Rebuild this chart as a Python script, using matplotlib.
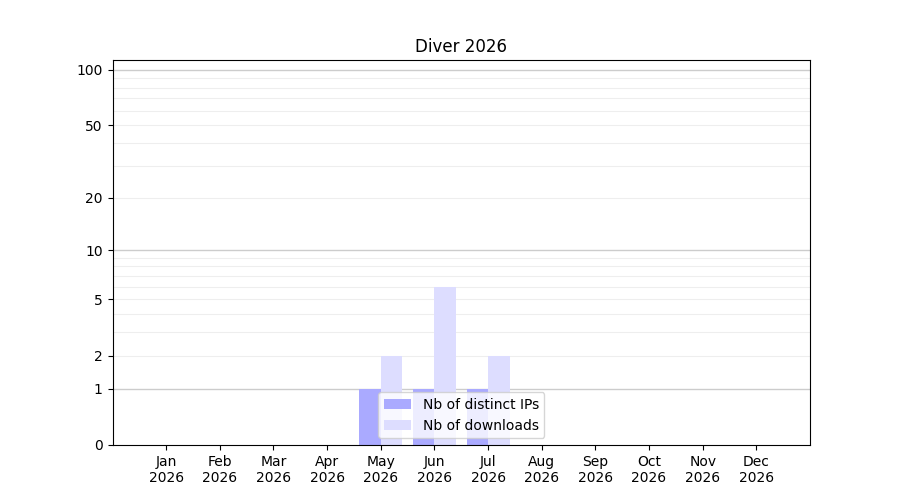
import matplotlib
matplotlib.use("Agg")
import matplotlib.pyplot as plt
import numpy as np

months = ["Jan", "Feb", "Mar", "Apr", "May", "Jun",
          "Jul", "Aug", "Sep", "Oct", "Nov", "Dec"]
year = "2026"
distinct_ips = [0, 0, 0, 0, 1, 1, 1, 0, 0, 0, 0, 0]
downloads = [0, 0, 0, 0, 2, 6, 2, 0, 0, 0, 0, 0]
y_ticks = [0, 1, 2, 5, 10, 20, 50, 100]
major_lines = [1, 10, 100]
minor_lines = [2, 3, 4, 5, 6, 7, 8, 9, 20, 30, 40, 50, 60, 70, 80, 90]


def fwd(y):
    return np.log10(np.maximum(y, 0) + 1)


def inv(y):
    return 10 ** y - 1


fig, ax = plt.subplots(figsize=(9, 5), dpi=100)
ax.set_yscale("function", functions=(fwd, inv))

x = np.arange(len(months))
bar_w = 0.4
ax.bar(x, distinct_ips, width=-bar_w, align="edge", color="#aaaaff",
       label="Nb of distinct IPs", zorder=2)
ax.bar(x, downloads, width=bar_w, align="edge", color="#ddddff",
       label="Nb of downloads", zorder=2)

for v in minor_lines:
    ax.axhline(v, color="#eeeeee", lw=0.8, zorder=0)
for v in major_lines:
    ax.axhline(v, color="#cccccc", lw=1.0, zorder=1)

ax.set_ylim(0, 113)
ax.set_yticks(y_ticks)
ax.set_yticklabels([str(v) for v in y_ticks])
ax.yaxis.set_minor_locator(matplotlib.ticker.NullLocator())

ax.set_xlim(-1, len(months))
ax.set_xticks(x)
ax.set_xticklabels([f"{m}\n{year}" for m in months])

ax.set_title(f"Diver {year}")
ax.legend(loc="lower center")

fig.savefig("out.png", dpi=100)
